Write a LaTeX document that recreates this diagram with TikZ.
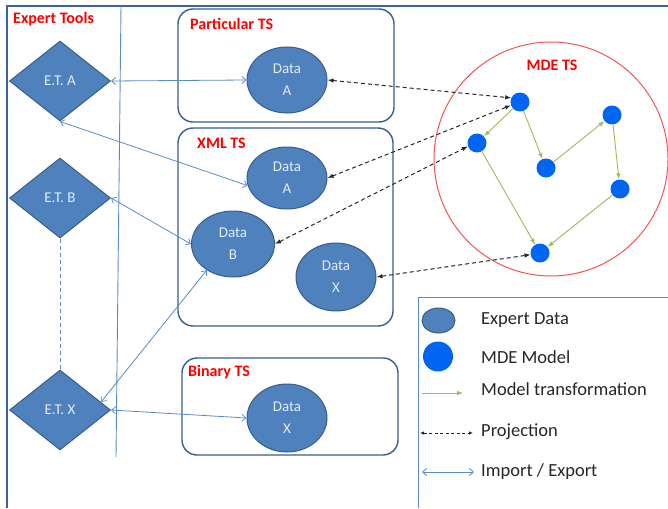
\documentclass[tikz,border=0pt]{standalone}
\usepackage{fontspec}
\setmainfont{Carlito}
\usetikzlibrary{shapes.geometric,arrows.meta}
\definecolor{fillc}{HTML}{4F81BD}
\definecolor{bordc}{HTML}{385D8A}
\definecolor{framec}{HTML}{3D6499}
\definecolor{txtc}{HTML}{E4EBF5}
\definecolor{iec}{HTML}{5B8BC7}
\definecolor{mdec}{HTML}{0066F2}
\definecolor{trc}{HTML}{9BBB59}
\definecolor{redc}{HTML}{FF0000}
\definecolor{redline}{HTML}{F05555}
\definecolor{legtxtc}{HTML}{262626}
\begin{document}
\begin{tikzpicture}[x=1pt,y=-1pt,
  diam/.style={diamond, draw=bordc, fill=fillc, line width=1pt, minimum width=101pt, minimum height=80pt, inner sep=0pt, text=txtc, font=\fontsize{15}{18}\selectfont},
  data/.style={ellipse, draw=bordc, fill=fillc, line width=1pt, minimum width=80pt, minimum height=66pt, inner sep=0pt, text=txtc, align=center, font=\fontsize{15}{22}\selectfont},
  mde/.style={circle, fill=mdec, minimum size=19pt, inner sep=0pt},
  tsbox/.style={draw=bordc, line width=1.4pt, rounded corners=15pt, inner sep=0pt},
  title/.style={text=redc, font=\bfseries\fontsize{16}{18}\selectfont, anchor=west, inner sep=0pt},
  legtxt/.style={text=legtxtc, font=\fontsize{18.5}{20}\selectfont, anchor=west, inner sep=0pt},
  ie/.style={draw=iec, line width=0.8pt, {Straight Barb[length=4pt,width=7pt]}-{Straight Barb[length=4pt,width=7pt]}},
  proj/.style={draw=black!85, dashed, dash pattern=on 4pt off 3pt, line width=1pt, {Latex[length=6pt,width=4.5pt]}-{Latex[length=6pt,width=4.5pt]}},
  tr/.style={draw=trc, line width=0.9pt, -{Latex[length=6pt,width=4.5pt]}},
  sepline/.style={draw=iec, line width=0.9pt}
]
\useasboundingbox (0,0) rectangle (668,508);
% outer frame
\draw[draw=framec, line width=2pt] (7,508) -- (7,6) -- (668,6);
\draw[sepline] (121,6) -- (116,457);
\node[title] (ettitle) at (13,19) {Expert Tools};

% expert tools
\node[diam] (etA) at (60,81) {E.T. A};
\node[diam] (etB) at (60,198) {E.T. B};
\node[diam] (etX) at (60,410) {E.T. X};
\draw[sepline, dashed, dash pattern=on 4pt off 3pt] (etB.south) -- (etX.north);

% technical spaces
\node[tsbox, minimum width=216pt, minimum height=113pt] (pts) at (286,65.5) {};
\node[title] (ptstitle) at (190,24) {Particular TS};
\node[tsbox, minimum width=215pt, minimum height=198pt] (xts) at (285.5,227) {};
\node[title] (xtstitle) at (197,143) {XML TS};
\node[tsbox, minimum width=216pt, minimum height=97pt] (bts) at (290,406.5) {};
\node[title] (btstitle) at (188,372) {Binary TS};

% data
\node[data] (pA) at (287,80) {Data\\A};
\node[data, minimum height=62pt] (xA) at (287,178) {Data\\A};
\node[data, minimum width=83pt] (dB) at (233,244) {Data\\B};
\node[data, minimum height=68pt] (xX) at (336,277) {Data\\X};
\node[data, minimum height=68pt] (bX) at (287,418) {Data\\X};

% MDE TS
\node[circle, draw=redline, line width=1pt, minimum size=234pt, inner sep=0pt] (mdets) at (551,159) {};
\node[text=redc, font=\bfseries\fontsize{16}{18}\selectfont, inner sep=0pt] (mdetitle) at (552,65) {MDE TS};
\node[mde] (n1) at (520,102) {};
\node[mde] (n2) at (477,143) {};
\node[mde] (n3) at (546,168) {};
\node[mde] (n4) at (612,115) {};
\node[mde] (n5) at (620,189) {};
\node[mde] (n6) at (540,253) {};
\draw[tr] (n1) -- (n2);
\draw[tr] (n1) -- (n3);
\draw[tr] (n3) -- (n4);
\draw[tr] (n4) -- (n5);
\draw[tr] (n2) -- (n6);
\draw[tr] (n5) -- (n6);

% projections
\draw[proj] (pA.east) -- (n1.155);
\draw[proj] (xA.east) -- (n1.200);
\draw[proj] (dB.east) -- (n2.200);
\draw[proj] (xX.east) -- (n6.190);

% import / export
\draw[ie] (etA.east) -- (pA.west);
\draw[ie] (etA.south) -- (xA.191);
\draw[ie] (etB.east) -- (dB.west);
\draw[ie] (etX.11) -- (dB.225);
\draw[ie] (etX.east) -- (bX.west);

% legend
\draw[sepline] (418,508) -- (418,297) -- (668,297);
\node[data, minimum width=33pt, minimum height=25pt] (lgED) at (438.5,320.5) {};
\node[mde, minimum size=30pt] (lgMM) at (438,356.5) {};
\coordinate (lt1) at (422,393);
\coordinate (lt2) at (463,393);
\coordinate (lp1) at (420,433);
\coordinate (lp2) at (473,433);
\coordinate (li1) at (422,472);
\coordinate (li2) at (474,472);
\draw[tr] (lt1) -- (lt2);
\draw[proj, line width=0.8pt, dash pattern=on 3pt off 2.5pt, {Latex[length=4pt,width=3.5pt]}-{Latex[length=4pt,width=3.5pt]}] (lp1) -- (lp2);
\draw[ie] (li1) -- (li2);
\node[legtxt] (tED) at (481,320) {Expert Data};
\node[legtxt] (tMM) at (481,357) {MDE Model};
\node[legtxt] (tMT) at (481,389) {Model transformation};
\node[legtxt] (tPR) at (481,432) {Projection};
\node[legtxt] (tIE) at (481,472) {Import / Export};
\end{tikzpicture}
\end{document}
